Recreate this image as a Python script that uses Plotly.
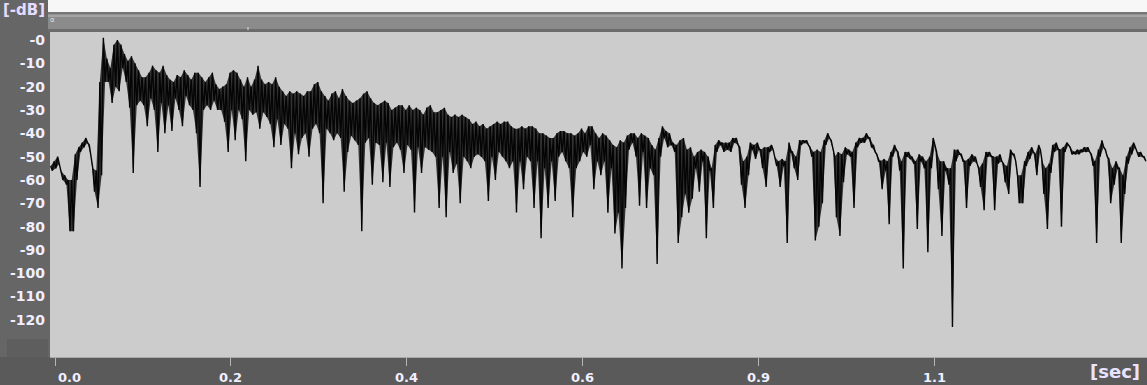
import plotly.graph_objects as go

# ---- data: level envelope of the decay, one bucket every t_step seconds ----
t_start = -0.005   # seconds, first bucket
t_step = 0.004     # seconds per bucket

# upper level of each bucket (dB)
peak_db = [
    -54, -52, -50, -56, -58, -60, -60, -49, -46, -44, -42, -45, -55, -56, -18,
    1, -8, -12, -2, 0, -2, -6, -9, -7, -10, -13, -16, -16, -14, -11,
    -13, -14, -11, -15, -17, -18, -15, -16, -13, -15, -17, -14, -14, -16, -18,
    -16, -14, -19, -21, -20, -19, -14, -13, -14, -17, -20, -16, -20, -17, -11,
    -17, -19, -18, -19, -16, -20, -22, -24, -22, -23, -22, -23, -24, -22, -22,
    -19, -18, -22, -24, -26, -23, -22, -25, -21, -24, -26, -27, -26, -25, -23,
    -22, -25, -27, -28, -27, -26, -27, -30, -29, -28, -28, -30, -28, -30, -29,
    -30, -32, -29, -28, -31, -31, -30, -29, -32, -33, -32, -33, -32, -33, -34,
    -36, -35, -37, -36, -38, -37, -36, -35, -36, -35, -35, -37, -38, -38, -37,
    -38, -37, -37, -38, -40, -40, -41, -42, -42, -40, -39, -39, -40, -40, -41,
    -40, -38, -40, -37, -37, -40, -42, -40, -41, -43, -45, -46, -43, -44, -41,
    -40, -40, -42, -40, -41, -42, -45, -47, -42, -37, -39, -40, -44, -45, -43,
    -42, -47, -46, -50, -48, -47, -48, -50, -55, -45, -43, -44, -44, -44, -42,
    -42, -46, -52, -50, -44, -45, -44, -47, -46, -46, -45, -50, -52, -51, -52,
    -44, -48, -50, -43, -43, -43, -46, -48, -47, -48, -43, -40, -43, -50, -48,
    -49, -46, -47, -48, -44, -42, -42, -40, -42, -45, -49, -52, -51, -52, -48,
    -45, -48, -52, -48, -48, -50, -52, -49, -50, -52, -50, -42, -48, -52, -52,
    -55, -55, -47, -47, -49, -52, -51, -49, -50, -55, -53, -48, -48, -50, -50,
    -49, -53, -54, -47, -49, -58, -58, -52, -48, -46, -49, -45, -52, -55, -53,
    -45, -44, -47, -46, -44, -46, -48, -47, -47, -46, -46, -49, -52, -47, -43,
    -47, -51, -55, -52, -55, -58, -50, -46, -44, -48, -48, -50,
]

# lowest level reached inside each bucket (dB)
floor_db = [
    -56, -55, -53, -60, -62, -82, -82, -60, -48, -46, -44, -50, -65, -72, -58,
    -18, -18, -27, -20, -22, -12, -18, -29, -57, -28, -26, -28, -37, -25, -30,
    -48, -27, -40, -28, -39, -25, -30, -37, -24, -28, -30, -40, -63, -30, -28,
    -30, -26, -30, -30, -35, -48, -30, -43, -30, -34, -52, -30, -32, -31, -38,
    -31, -33, -36, -46, -34, -45, -36, -38, -55, -40, -49, -42, -40, -50, -38,
    -36, -40, -70, -38, -40, -43, -40, -42, -65, -48, -41, -43, -45, -82, -44,
    -42, -62, -44, -45, -61, -44, -63, -46, -44, -47, -57, -45, -47, -74, -46,
    -57, -46, -47, -48, -50, -72, -50, -76, -48, -57, -53, -70, -50, -52, -55,
    -50, -49, -50, -52, -69, -50, -60, -48, -50, -52, -55, -52, -74, -52, -64,
    -50, -52, -72, -52, -85, -55, -72, -52, -69, -50, -48, -52, -55, -76, -55,
    -52, -48, -50, -45, -64, -52, -58, -52, -74, -55, -83, -74, -98, -72, -47,
    -44, -50, -71, -48, -72, -55, -58, -96, -50, -42, -46, -45, -48, -87, -76,
    -66, -74, -68, -55, -65, -52, -85, -56, -72, -48, -45, -48, -47, -48, -44,
    -45, -62, -72, -58, -47, -51, -47, -55, -63, -48, -47, -54, -63, -54, -87,
    -48, -55, -60, -45, -44, -45, -50, -86, -80, -70, -45, -42, -47, -76, -84,
    -61, -49, -50, -72, -46, -44, -44, -42, -46, -48, -52, -64, -56, -79, -50,
    -47, -56, -98, -50, -51, -53, -81, -52, -55, -91, -55, -45, -64, -84, -56,
    -62, -123, -52, -49, -52, -72, -54, -52, -53, -63, -73, -50, -50, -73, -53,
    -52, -61, -66, -49, -52, -70, -70, -54, -51, -48, -58, -47, -66, -81, -57,
    -48, -47, -80, -48, -45, -49, -49, -49, -48, -48, -48, -54, -87, -50, -46,
    -50, -70, -62, -55, -87, -66, -53, -49, -46, -50, -50, -52,
]

y_tick_vals = [0, -10, -20, -30, -40, -50, -60, -70, -80, -90, -100, -110, -120]
y_tick_text = ["-0", "-10", "-20", "-30", "-40", "-50", "-60", "-70", "-80",
               "-90", "-100", "-110", "-120"]
x_tick_vals = [0.0, 0.2, 0.4, 0.6, 0.8, 1.0]
x_tick_text = ["0.0", "0.2", "0.4", "0.6", "0.9", "1.1"]

# ---- build waveform (peak -> floor per bucket) ----
n = min(len(peak_db), len(floor_db))
t_peak = [t_start + i * t_step for i in range(n)]
t_floor = [t_start + (i + 0.5) * t_step for i in range(n)]
xs, ys = [], []
for i in range(n):
    xs += [t_peak[i], t_floor[i]]
    ys += [peak_db[i], floor_db[i]]

W, H = 1147, 385
ML, MR, MT, MB = 50, 0, 32, 28
PW, PH = W - ML - MR, H - MT - MB


def px(xp):
    return (xp - ML) / PW


def py(yp):
    return (H - MB - yp) / PH


fig = go.Figure()
# body of the envelope (filled between upper and lower levels)
fig.add_trace(go.Scatter(x=t_peak, y=peak_db[:n], mode="lines",
                         line=dict(color="rgba(0,0,0,0)", width=0),
                         hoverinfo="skip", showlegend=False))
fig.add_trace(go.Scatter(x=t_floor, y=floor_db[:n], mode="lines", fill="tonexty",
                         fillcolor="rgba(8,8,8,0.78)",
                         line=dict(color="rgba(0,0,0,0)", width=0),
                         hoverinfo="skip", showlegend=False))
# the trace itself
fig.add_trace(go.Scatter(x=xs, y=ys, mode="lines",
                         line=dict(color="#050505", width=1.4),
                         hoverinfo="skip", showlegend=False))

txt_col = "#f1efff"
font_fam = "DejaVu Sans, Verdana, sans-serif"

shapes = [
    # white strip at very top
    dict(type="rect", xref="paper", yref="paper", x0=px(48), x1=px(W), y0=py(12), y1=py(0),
         fillcolor="#f7f7f7", line=dict(width=0), layer="below"),
    # grey scroll bar
    dict(type="rect", xref="paper", yref="paper", x0=px(48), x1=px(W), y0=py(32), y1=py(12),
         fillcolor="#8b8b8b", line=dict(width=0), layer="below"),
    dict(type="rect", xref="paper", yref="paper", x0=px(48), x1=px(W), y0=py(14.5), y1=py(12),
         fillcolor="#777777", line=dict(width=0), layer="below"),
    dict(type="rect", xref="paper", yref="paper", x0=px(48), x1=px(W), y0=py(17), y1=py(14.5),
         fillcolor="#a4a4a4", line=dict(width=0), layer="below"),
    dict(type="rect", xref="paper", yref="paper", x0=px(48), x1=px(W), y0=py(32), y1=py(29),
         fillcolor="#6c6c6c", line=dict(width=0), layer="below"),
    dict(type="line", xref="paper", yref="paper", x0=px(248), x1=px(248), y0=py(30), y1=py(27),
         line=dict(color="#e0e0e0", width=1)),
    # bottom panel
    dict(type="rect", xref="paper", yref="paper", x0=px(0), x1=px(W), y0=py(H), y1=py(H - MB),
         fillcolor="#5a5a5a", line=dict(width=0), layer="below"),
    # darker corner block at lower left
    dict(type="rect", xref="paper", yref="paper", x0=px(7), x1=px(48), y0=py(357), y1=py(339),
         fillcolor="#5e5e5e", line=dict(width=0), layer="below"),
    # plot bottom border
    dict(type="line", xref="paper", yref="paper", x0=0, x1=1, y0=py(357.5), y1=py(357.5),
         line=dict(color="#a8a8a8", width=1)),
]

annotations = [
    dict(text="[-dB]", xref="paper", yref="paper", x=px(24), y=py(10), showarrow=False,
         xanchor="center", yanchor="middle",
         font=dict(family=font_fam, size=15, color="#e6dcff", weight="bold")),
    dict(text="[sec]", xref="paper", yref="paper", x=px(1115), y=py(371), showarrow=False,
         xanchor="center", yanchor="middle",
         font=dict(family=font_fam, size=18, color="#e8e4ff", weight="bold")),
    dict(text="α", xref="paper", yref="paper", x=px(52), y=py(20), showarrow=False,
         xanchor="center", yanchor="middle",
         font=dict(family=font_fam, size=7, color="#dddddd")),
]
for v, s in zip(x_tick_vals, x_tick_text):
    first = (v == x_tick_vals[0])
    annotations.append(dict(text=s, x=v, xref="x", yref="paper", y=py(377), showarrow=False,
                            xanchor="left" if first else "center", yanchor="middle",
                            xshift=1 if first else 0,
                            font=dict(family=font_fam, size=13, color=txt_col, weight="bold")))

fig.update_layout(
    width=W, height=H,
    margin=dict(l=ML, r=MR, t=MT, b=MB, pad=0),
    paper_bgcolor="#666666",
    plot_bgcolor="#cccccc",
    shapes=shapes,
    annotations=annotations,
    xaxis=dict(range=[-0.00569, 1.2423], showgrid=False, zeroline=False,
               tickvals=x_tick_vals, showticklabels=False,
               ticks="outside", ticklen=8, tickcolor="#b5b5b5", tickwidth=1,
               showline=False, fixedrange=True),
    yaxis=dict(range=[-135.9, 3.43], showgrid=False, zeroline=False,
               tickvals=y_tick_vals, ticktext=y_tick_text, ticks="",
               ticklabelstandoff=4,
               tickfont=dict(family=font_fam, size=14, color=txt_col, weight="bold"),
               showline=False, fixedrange=True),
)

fig.write_html("out.html", config={"displayModeBar": False},
               post_script="document.body.style.margin='0';document.body.style.padding='0';")
